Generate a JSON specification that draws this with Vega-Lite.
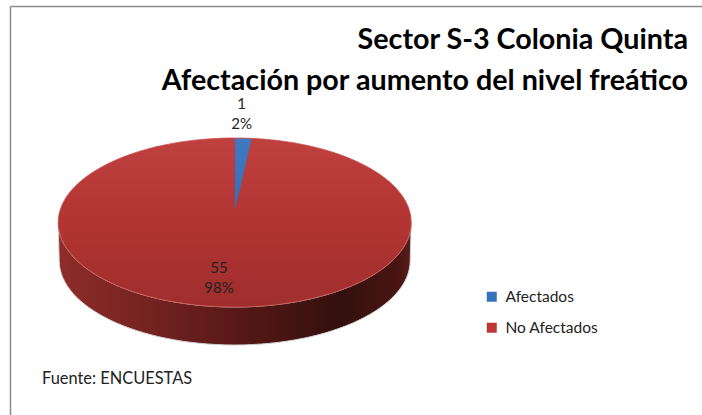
{
  "$schema": "https://vega.github.io/schema/vega-lite/v6.json",
  "width": 692,
  "height": 409,
  "autosize": {"type": "none"},
  "padding": {"left": 10, "top": 6, "right": 0, "bottom": 0},
  "background": "white",
  "config": {"view": {"stroke": null}},
  "title": {
    "text": ["Sector S-3 Colonia Quinta", "Afectación por aumento del nivel freático"],
    "anchor": "end",
    "align": "right",
    "orient": "top",
    "offset": -90,
    "dx": -14,
    "font": "Lato",
    "fontSize": 28.7,
    "fontWeight": "bold",
    "lineHeight": 41,
    "color": "#000000"
  },
  "data": {"values": [
    {"categoria": "No Afectados", "viviendas": 55, "porcentaje": 98, "etiqueta": "55\n98%"},
    {"categoria": "Afectados", "viviendas": 1, "porcentaje": 2, "etiqueta": "1\n2%"}
  ]},
  "layer": [
    {
      "transform": [{"filter": "datum.categoria === 'No Afectados'"}],
      "mark": {
        "type": "point",
        "filled": true,
        "opacity": 1,
        "size": 4,
        "stroke": "#d2d2d2",
        "strokeWidth": 1,
        "strokeOpacity": 1,
        "shape": "M-176.5,0 A176.5,84.5 0 0 0 176.5,0 L175.5,38 A175.5,84.5 0 0 1 -175.5,38 Z",
        "fill": {
          "gradient": "linear", "x1": 0, "y1": 0, "x2": 1, "y2": 0,
          "stops": [
            {"offset": 0, "color": "#8f2c29"},
            {"offset": 0.3, "color": "#6f211f"},
            {"offset": 0.55, "color": "#521715"},
            {"offset": 0.8, "color": "#33100e"},
            {"offset": 0.97, "color": "#4a1612"},
            {"offset": 1, "color": "#5a1c18"}
          ]
        }
      },
      "encoding": {
        "x": {"datum": 234.7, "type": "quantitative", "scale": {"domain": [10, 702], "nice": false, "zero": false},
          "axis": {"orient": "top", "labels": false, "ticks": false, "grid": false, "title": null, "domain": true, "domainColor": "#8c8c8c", "domainWidth": 1.5}},
        "y": {"datum": 222.5, "type": "quantitative", "scale": {"domain": [6, 415], "nice": false, "zero": false, "reverse": true},
          "axis": {"orient": "left", "labels": false, "ticks": false, "grid": false, "title": null, "domain": true, "domainColor": "#8c8c8c", "domainWidth": 1.5}}
      }
    },
    {
      "mark": {"type": "point", "filled": true, "opacity": 1, "size": 4},
      "encoding": {
        "x": {"datum": 234.7, "type": "quantitative"},
        "y": {"datum": 222.5, "type": "quantitative"},
        "shape": {
          "field": "categoria", "type": "nominal", "legend": null,
          "scale": {
            "domain": ["No Afectados", "Afectados"],
            "range": [
              "M-176.5,0 A176.5,84.5 0 1 1 176.5,0 A176.5,84.5 0 1 1 -176.5,0 Z",
              "M0.3,-12.5 L0.3,-84.5 A176.5,84.5 0 0 1 17,-84 Z"
            ]
          }
        },
        "fill": {
          "field": "categoria", "type": "nominal",
          "scale": {
            "domain": ["Afectados", "No Afectados"],
            "range": ["#3573bd", "#bc3735"]
          },
          "legend": {
            "title": null,
            "orient": "none",
            "legendX": 474,
            "legendY": 283,
            "symbolType": "square",
            "symbolSize": 100,
            "symbolStrokeWidth": 0,
            "labelFont": "Lato",
            "labelFontSize": 15.5,
            "labelColor": "#222222",
            "labelOffset": 6,
            "rowPadding": 14
          }
        }
      }
    },
    {
      "transform": [{"filter": "datum.categoria === 'No Afectados'"}],
      "mark": {
        "type": "point",
        "filled": true,
        "opacity": 1,
        "size": 4,
        "stroke": "#c9504b",
        "strokeWidth": 0.8,
        "shape": "M-176.5,0 A176.5,84.5 0 1 1 176.5,0 A176.5,84.5 0 1 1 -176.5,0 Z",
        "fill": {
          "gradient": "linear", "x1": 0, "y1": 0, "x2": 0, "y2": 1,
          "stops": [
            {"offset": 0, "color": "rgba(255,255,255,0.05)"},
            {"offset": 0.5, "color": "rgba(0,0,0,0.05)"},
            {"offset": 1, "color": "rgba(0,0,0,0.16)"}
          ]
        }
      },
      "encoding": {
        "x": {"datum": 234.7, "type": "quantitative"},
        "y": {"datum": 222.5, "type": "quantitative"}
      }
    },
    {
      "transform": [{"filter": "datum.categoria === 'Afectados'"}],
      "mark": {"type": "text", "lineBreak": "\n", "lineHeight": 20, "font": "Lato", "fontSize": 15, "color": "#222222", "baseline": "middle", "align": "center"},
      "encoding": {
        "x": {"datum": 241.7, "type": "quantitative"},
        "y": {"datum": 104, "type": "quantitative"},
        "text": {"field": "etiqueta", "type": "nominal"}
      }
    },
    {
      "transform": [{"filter": "datum.categoria === 'No Afectados'"}],
      "mark": {"type": "text", "lineBreak": "\n", "lineHeight": 20, "font": "Lato", "fontSize": 15, "color": "#222222", "baseline": "middle", "align": "center"},
      "encoding": {
        "x": {"datum": 219, "type": "quantitative"},
        "y": {"datum": 268, "type": "quantitative"},
        "text": {"field": "etiqueta", "type": "nominal"}
      }
    },
    {
      "data": {"values": [{"nota": "Fuente: ENCUESTAS"}]},
      "mark": {"type": "text", "font": "Lato", "fontSize": 16.4, "color": "#222222", "align": "left", "baseline": "middle"},
      "encoding": {
        "x": {"datum": 42, "type": "quantitative"},
        "y": {"datum": 379, "type": "quantitative"},
        "text": {"field": "nota", "type": "nominal"}
      }
    }
  ]
}
